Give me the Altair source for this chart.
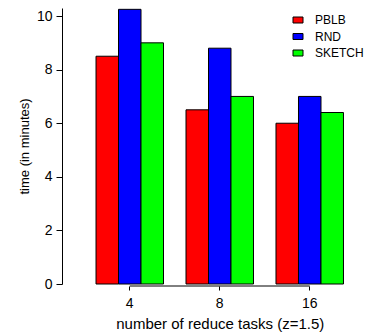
import altair as alt
import pandas as pd

tasks = ["4", "8", "16"]
series = ["PBLB", "RND", "SKETCH"]
pblb = [8.5, 6.5, 6.0]
rnd = [10.25, 8.8, 7.0]
sketch = [9.0, 7.0, 6.4]
colors = ["#FF0000", "#0000FF", "#00FF00"]
y_ticks = [0, 2, 4, 6, 8, 10]

rows = []
for name, vals in zip(series, [pblb, rnd, sketch]):
    for t, v in zip(tasks, vals):
        rows.append({"tasks": t, "series": name, "time": v})
df = pd.DataFrame(rows)
dom = pd.DataFrame({"a": [tasks[0]], "b": [tasks[-1]]})

W = 279.5
H = 276
FONT = "Liberation Sans"

xscale = alt.Scale(domain=tasks, paddingInner=0.25, paddingOuter=0.178)
xaxis = alt.Axis(title="number of reduce tasks (z=1.5)", labelAngle=0, domain=False,
                 tickSize=4, offset=2, labelPadding=6, titlePadding=6, grid=False,
                 labelFontSize=14, titleFontSize=15)

bars = alt.Chart(df).mark_bar(stroke="black", strokeWidth=1).encode(
    x=alt.X("tasks:N", sort=tasks, scale=xscale, axis=xaxis),
    xOffset=alt.XOffset("series:N", sort=series,
                        scale=alt.Scale(domain=series, paddingInner=0, paddingOuter=0)),
    y=alt.Y("time:Q", scale=alt.Scale(domain=[0, 10.3], nice=False, zero=True),
            axis=alt.Axis(title="time (in minutes)", values=y_ticks, tickSize=6, offset=18,
                          labelPadding=4, titlePadding=5, grid=False,
                          labelFontSize=14, titleFontSize=13)),
    fill=alt.Fill("series:N", sort=series, scale=alt.Scale(domain=series, range=colors),
                  legend=alt.Legend(title=None, orient="none", legendX=212, legendY=6,
                                    symbolType="M-1,-0.6L1,-0.6L1,0.6L-1,0.6Z", symbolSize=100,
                                    symbolStrokeColor="black", symbolStrokeWidth=1,
                                    symbolOpacity=1, labelFontSize=12, labelFont=FONT,
                                    labelColor="black", labelOffset=11, rowPadding=4.5,
                                    padding=0, symbolOffset=0)),
)

rule = alt.Chart(dom).mark_rule(color="black", strokeWidth=1).encode(
    x=alt.X("a:N", sort=tasks, scale=xscale, axis=xaxis),
    x2="b:N",
    y=alt.value(H + 2),
)

chart = alt.layer(bars, rule).properties(
    width=W, height=H,
    autosize=alt.AutoSizeParams(type="none"),
    padding={"left": 72, "top": 0, "right": 8, "bottom": 52},
    background="white",
).configure_view(stroke=None).configure_axis(
    labelFont=FONT, titleFont=FONT,
    labelColor="black", titleColor="black", titleFontWeight="normal",
    domainColor="black", tickColor="black", domainWidth=1, tickWidth=1,
)

chart.save("out.html", embed_options={"renderer": "svg", "actions": False})
